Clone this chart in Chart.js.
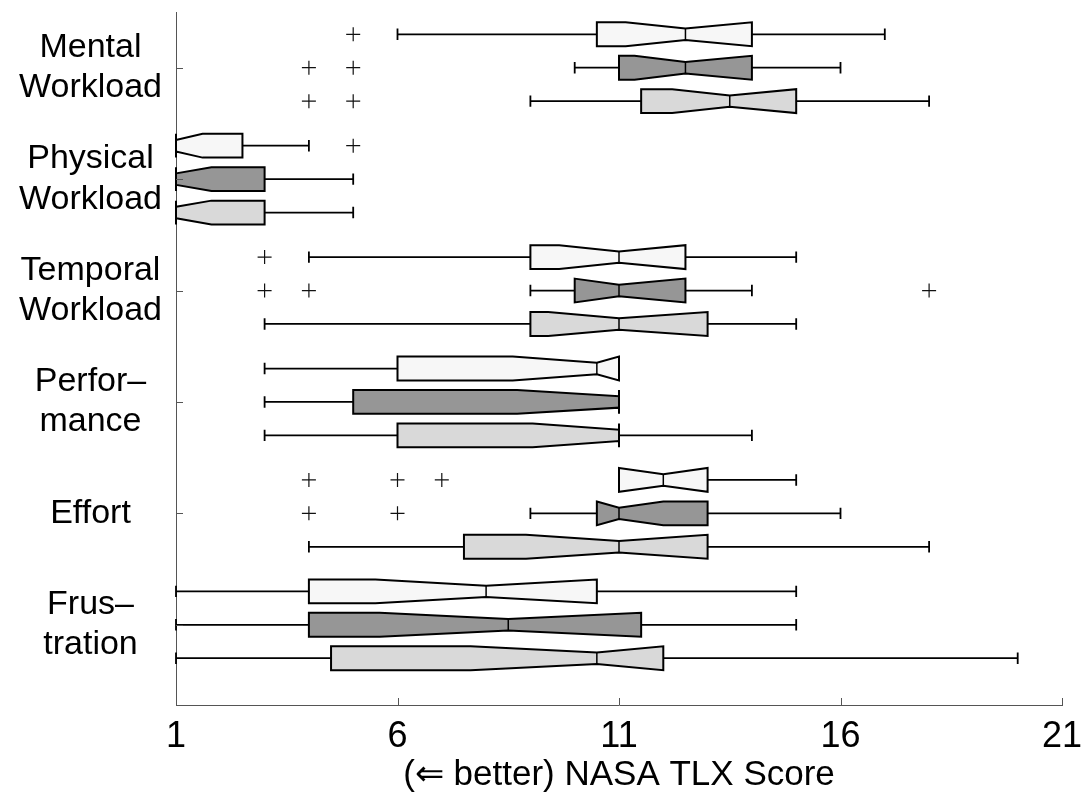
<!DOCTYPE html>
<html>
<head>
<meta charset="utf-8">
<title>NASA TLX scores</title>
<script src="https://cdn.jsdelivr.net/npm/chart.js@4.4.0/dist/chart.umd.min.js"></script>
<style>
  html, body { margin: 0; padding: 0; background: #fff; }
  #wrap { width: 1083px; height: 797px; position: relative; }
</style>
</head>
<body>
<div id="wrap"><canvas id="tlxChart"></canvas></div>
<script>
// categories (top to bottom) and x ticks
const categories = [['Mental', 'Workload'], ['Physical', 'Workload'], ['Temporal', 'Workload'],
                    ['Perfor\u2013', 'mance'], ['Effort'], ['Frus\u2013', 'tration']];
const xTicks = [1, 6, 11, 16, 21];

// condition 1 (top box of each group, white)
const whiskerLoA = [6, 1, 4, 3, 11, 1];
const q1A        = [10.5, 1, 9, 6, 11, 4];
const notchLoA   = [11.15, 1, 9.65, 8.6, 11, 5.5];
const medianA    = [12.5, 1, 11, 10.5, 12, 8];
const notchHiA   = [14, 1.6, 12.5, 11, 13, 10.5];
const q3A        = [14, 2.5, 12.5, 11, 13, 10.5];
const whiskerHiA = [17, 4, 15, 11, 15, 15];
const outliersA  = [[5], [5], [3], [], [4, 6, 7], []];

// condition 2 (middle box, dark gray)
const whiskerLoB = [10, 1, 9, 3, 9, 1];
const q1B        = [11, 1, 10, 5, 10.5, 4];
const notchLoB   = [11.35, 1, 10, 8.7, 10.5, 5.6];
const medianB    = [12.5, 1, 11, 11, 11, 8.5];
const notchHiB   = [14, 1.8, 12.5, 11, 12, 11.5];
const q3B        = [14, 3, 12.5, 11, 13, 11.5];
const whiskerHiB = [16, 5, 14, 11, 16, 15];
const outliersB  = [[4, 5], [], [3, 4, 18], [], [4, 6], []];

// condition 3 (bottom box, light gray)
const whiskerLoC = [9, 1, 3, 3, 4, 1];
const q1C        = [11.5, 1, 9, 6, 7.5, 4.5];
const notchLoC   = [12.2, 1, 9.4, 9.05, 8.9, 7.65];
const medianC    = [13.5, 1, 11, 11, 11, 10.5];
const notchHiC   = [15, 1.8, 13, 11, 13, 12];
const q3C        = [15, 3, 13, 11, 13, 12];
const whiskerHiC = [18, 5, 15, 14, 18, 20];
const outliersC  = [[4, 5], [], [], [], [], []];

const series = [
    {lo: whiskerLoA, q1: q1A, nlo: notchLoA, med: medianA, nhi: notchHiA, q3: q3A, hi: whiskerHiA, out: outliersA},
    {lo: whiskerLoB, q1: q1B, nlo: notchLoB, med: medianB, nhi: notchHiB, q3: q3B, hi: whiskerHiB, out: outliersB},
    {lo: whiskerLoC, q1: q1C, nlo: notchLoC, med: medianC, nhi: notchHiC, q3: q3C, hi: whiskerHiC, out: outliersC}
];
const fills = ['#f7f7f7', '#969696', '#d9d9d9'];
const offsets = [-0.3, 0, 0.3];   // box position inside a group (y units)
const boxHalf = 0.107;            // half box height (y units)
const FONT = "'Liberation Sans', Arial, Helvetica, sans-serif";

// draws notched boxes + whiskers from the scales
const notchedBoxes = {
    id: 'notchedBoxes',
    beforeDatasetsDraw(chart) {
        const {ctx, scales: {x, y}} = chart;
        const px = v => x.getPixelForValue(v);
        ctx.save();
        ctx.lineJoin = 'miter';
        series.forEach((s, si) => {
            categories.forEach((c, i) => {
                const pos = i + 1 + offsets[si];
                const yc = y.getPixelForValue(pos);
                const h = Math.abs(y.getPixelForValue(pos + boxHalf) - yc);
                const hn = h * 0.48;

                // whiskers and caps
                ctx.strokeStyle = '#000';
                ctx.lineWidth = 1.8;
                ctx.beginPath();
                ctx.moveTo(px(s.lo[i]), yc); ctx.lineTo(px(s.q1[i]), yc);
                ctx.moveTo(px(s.q3[i]), yc); ctx.lineTo(px(s.hi[i]), yc);
                ctx.moveTo(px(s.lo[i]), yc - hn); ctx.lineTo(px(s.lo[i]), yc + hn);
                ctx.moveTo(px(s.hi[i]), yc - hn); ctx.lineTo(px(s.hi[i]), yc + hn);
                ctx.stroke();

                // notched box
                const q1 = px(s.q1[i]), q3 = px(s.q3[i]), m = px(s.med[i]);
                const nl = px(Math.max(s.nlo[i], s.q1[i])), nh = px(Math.min(s.nhi[i], s.q3[i]));
                ctx.beginPath();
                ctx.moveTo(q1, yc - h);
                ctx.lineTo(nl, yc - h);
                ctx.lineTo(m, yc - hn);
                ctx.lineTo(nh, yc - h);
                ctx.lineTo(q3, yc - h);
                ctx.lineTo(q3, yc + h);
                ctx.lineTo(nh, yc + h);
                ctx.lineTo(m, yc + hn);
                ctx.lineTo(nl, yc + h);
                ctx.lineTo(q1, yc + h);
                ctx.closePath();
                ctx.fillStyle = fills[si];
                ctx.fill();
                ctx.lineWidth = 2;
                ctx.stroke();

                // median
                ctx.lineWidth = 1.5;
                ctx.beginPath();
                ctx.moveTo(m, yc - hn); ctx.lineTo(m, yc + hn);
                ctx.stroke();
            });
        });
        ctx.restore();
    },
    afterDraw(chart) {
        // inward tick marks
        const {ctx, chartArea: a, scales: {x, y}} = chart;
        ctx.save();
        ctx.strokeStyle = '#555';
        ctx.lineWidth = 1;
        ctx.beginPath();
        y.ticks.forEach(t => {
            const py = Math.round(y.getPixelForValue(t.value)) + 0.5;
            ctx.moveTo(a.left, py); ctx.lineTo(a.left + 7, py);
        });
        x.ticks.forEach(t => {
            const p = Math.round(x.getPixelForValue(t.value)) + 0.5;
            ctx.moveTo(p, a.bottom); ctx.lineTo(p, a.bottom - 7);
        });
        ctx.stroke();
        ctx.restore();
    }
};

function outlierPoints(s, si) {
    const pts = [];
    s.out.forEach((vals, i) => {
        vals.forEach(v => pts.push({x: v, y: i + 1 + offsets[si]}));
    });
    return pts;
}

function initChart() {
    const ctx = document.getElementById('tlxChart');
    if (!ctx) {
        console.error('Canvas element not found');
        return;
    }

    new Chart(ctx, {
        type: 'scatter',
        data: {
            datasets: series.map((s, si) => ({
                label: 'outliers ' + (si + 1),
                data: outlierPoints(s, si),
                pointStyle: 'cross',
                radius: 7,
                borderWidth: 1.2,
                borderColor: '#111',
                backgroundColor: '#111'
            }))
        },
        options: {
            responsive: true,
            maintainAspectRatio: false,
            animation: false,
            layout: {padding: {top: 12, right: 21, bottom: 0, left: 0}},
            plugins: {
                legend: {display: false},
                tooltip: {enabled: false}
            },
            scales: {
                x: {
                    type: 'linear',
                    min: 1,
                    max: 21,
                    afterBuildTicks: scale => { scale.ticks = xTicks.map(v => ({value: v})); },
                    afterFit: scale => {
                        scale.height = 92;
                        scale.paddingLeft = 0;
                        scale.paddingRight = 0;
                    },
                    grid: {display: false, drawTicks: false},
                    border: {display: true, color: '#555', width: 1},
                    ticks: {
                        padding: 10,
                        color: '#000',
                        font: {family: FONT, size: 36},
                        maxRotation: 0
                    },
                    title: {
                        display: true,
                        text: '(\u21D0 better) NASA TLX Score',
                        color: '#000',
                        font: {family: FONT, size: 35},
                        padding: {top: 0, bottom: 1}
                    }
                },
                y: {
                    type: 'linear',
                    reverse: true,
                    min: 0.5,
                    max: 6.72,
                    afterBuildTicks: scale => { scale.ticks = categories.map((c, i) => ({value: i + 1})); },
                    afterFit: scale => {
                        scale.width = 176;
                        scale.paddingTop = 0;
                        scale.paddingBottom = 0;
                    },
                    grid: {display: false, drawTicks: false},
                    border: {display: true, color: '#555', width: 1},
                    ticks: {
                        crossAlign: 'center',
                        padding: 14,
                        color: '#000',
                        font: {family: FONT, size: 34, lineHeight: 1.18},
                        callback: value => categories[Math.round(value) - 1]
                    }
                }
            }
        },
        plugins: [notchedBoxes]
    });
}

document.addEventListener('DOMContentLoaded', initChart);
</script>
</body>
</html>
